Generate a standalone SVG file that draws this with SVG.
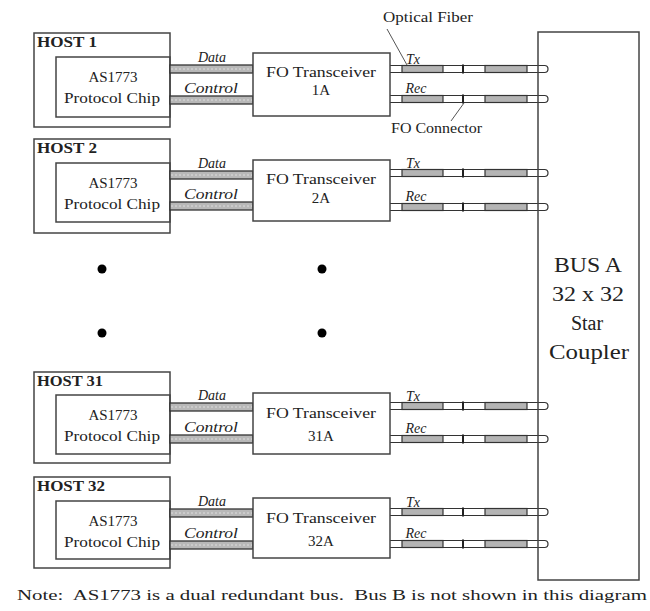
<svg xmlns="http://www.w3.org/2000/svg" width="650" height="611" viewBox="0 0 650 611">
<style>
.box{fill:none;stroke:#444;stroke-width:1.5}
.wbox{fill:#fff;stroke:#444;stroke-width:1.5}
.t{font-family:"Liberation Serif","Times New Roman",serif;fill:#222}
.host{font-size:15px;font-weight:bold}
.chip{font-size:15px;text-anchor:middle}
.lbl{font-size:14px;font-style:italic;text-anchor:middle}
.bus{font-size:20px;text-anchor:middle}
.lead{stroke:#555;stroke-width:1}
</style>
<defs>
<g id="fib">
<rect x="378" y="-3.5" width="170" height="7" rx="3.5" fill="#fff" stroke="#333" stroke-width="1.2"/>
<rect x="402" y="-3.5" width="41" height="7" fill="#b4b4b4" stroke="#333" stroke-width="1.2"/>
<rect x="485" y="-3.5" width="42" height="7" fill="#b4b4b4" stroke="#333" stroke-width="1.2"/>
<line x1="463" y1="-4.5" x2="463" y2="4.5" stroke="#222" stroke-width="2"/>
</g>
<g id="bar">
<rect x="170" y="-4" width="83" height="8" fill="#b8b8b8" stroke="#333" stroke-width="1.3"/>
<line x1="171" y1="0" x2="252" y2="0" stroke="#ddd" stroke-width="1" stroke-dasharray="2 2"/>
</g>
</defs>

<g id="host1">
<rect class="box" x="34" y="33" width="136" height="94"/>
<text class="t host" x="37" y="47" textLength="60" lengthAdjust="spacingAndGlyphs">HOST 1</text>
<rect class="box" x="56" y="57" width="114" height="60"/>
<text class="t chip" x="113" y="82">AS1773</text>
<text class="t chip" x="112" y="103" textLength="96" lengthAdjust="spacingAndGlyphs">Protocol Chip</text>
</g>
<g id="host2">
<rect class="box" x="34" y="139" width="136" height="94"/>
<text class="t host" x="37" y="153" textLength="60" lengthAdjust="spacingAndGlyphs">HOST 2</text>
<rect class="box" x="56" y="163" width="114" height="59"/>
<text class="t chip" x="113" y="188">AS1773</text>
<text class="t chip" x="112" y="209" textLength="96" lengthAdjust="spacingAndGlyphs">Protocol Chip</text>
</g>
<g id="host31">
<rect class="box" x="34" y="372" width="136" height="91"/>
<text class="t host" x="37" y="386" textLength="66" lengthAdjust="spacingAndGlyphs">HOST 31</text>
<rect class="box" x="56" y="395" width="114" height="59"/>
<text class="t chip" x="113" y="420">AS1773</text>
<text class="t chip" x="112" y="441" textLength="96" lengthAdjust="spacingAndGlyphs">Protocol Chip</text>
</g>
<g id="host32">
<rect class="box" x="34" y="477" width="136" height="91"/>
<text class="t host" x="37" y="491" textLength="68" lengthAdjust="spacingAndGlyphs">HOST 32</text>
<rect class="box" x="56" y="501" width="114" height="58"/>
<text class="t chip" x="113" y="526">AS1773</text>
<text class="t chip" x="112" y="547" textLength="96" lengthAdjust="spacingAndGlyphs">Protocol Chip</text>
</g>

<g id="connectors">
<use href="#bar" y="69"/><use href="#bar" y="100"/>
<use href="#bar" y="175"/><use href="#bar" y="206"/>
<use href="#bar" y="407"/><use href="#bar" y="439"/>
<use href="#bar" y="513"/><use href="#bar" y="545"/>
<use href="#fib" y="69"/><use href="#fib" y="99"/>
<use href="#fib" y="173"/><use href="#fib" y="207"/>
<use href="#fib" y="406"/><use href="#fib" y="439"/>
<use href="#fib" y="512"/><use href="#fib" y="544"/>
<line class="lead" x1="387" y1="29" x2="407" y2="65"/>
<line class="lead" x1="464" y1="103" x2="451" y2="121"/>
</g>

<g id="link-labels">
<text class="t lbl" x="212" y="62">Data</text>
<text class="t lbl" x="211" y="93" textLength="54" lengthAdjust="spacingAndGlyphs">Control</text>
<text class="t lbl" x="212" y="168">Data</text>
<text class="t lbl" x="211" y="199" textLength="54" lengthAdjust="spacingAndGlyphs">Control</text>
<text class="t lbl" x="212" y="400">Data</text>
<text class="t lbl" x="211" y="432" textLength="54" lengthAdjust="spacingAndGlyphs">Control</text>
<text class="t lbl" x="212" y="506">Data</text>
<text class="t lbl" x="211" y="538" textLength="54" lengthAdjust="spacingAndGlyphs">Control</text>
<text class="t lbl" x="413" y="64">Tx</text>
<text class="t lbl" x="416" y="93">Rec</text>
<text class="t lbl" x="413" y="168">Tx</text>
<text class="t lbl" x="416" y="201">Rec</text>
<text class="t lbl" x="413" y="401">Tx</text>
<text class="t lbl" x="416" y="433">Rec</text>
<text class="t lbl" x="413" y="507">Tx</text>
<text class="t lbl" x="416" y="538">Rec</text>
<text class="t" x="383" y="22" font-size="14" textLength="90" lengthAdjust="spacingAndGlyphs">Optical Fiber</text>
<text class="t" x="391" y="133" font-size="14" textLength="91" lengthAdjust="spacingAndGlyphs">FO Connector</text>
</g>

<g id="trans1A">
<rect class="wbox" x="253" y="53" width="137" height="63"/>
<text class="t chip" x="321" y="77" textLength="110" lengthAdjust="spacingAndGlyphs">FO Transceiver</text>
<text class="t chip" x="321" y="95">1A</text>
</g>
<g id="trans2A">
<rect class="wbox" x="253" y="160" width="137" height="61"/>
<text class="t chip" x="321" y="184" textLength="110" lengthAdjust="spacingAndGlyphs">FO Transceiver</text>
<text class="t chip" x="321" y="203">2A</text>
</g>
<g id="trans31A">
<rect class="wbox" x="253" y="393" width="137" height="61"/>
<text class="t chip" x="321" y="418" textLength="110" lengthAdjust="spacingAndGlyphs">FO Transceiver</text>
<text class="t chip" x="321" y="441">31A</text>
</g>
<g id="trans32A">
<rect class="wbox" x="253" y="498" width="137" height="60"/>
<text class="t chip" x="321" y="523" textLength="110" lengthAdjust="spacingAndGlyphs">FO Transceiver</text>
<text class="t chip" x="321" y="546">32A</text>
</g>

<g id="dots" fill="#000">
<circle cx="102" cy="269" r="4.5"/><circle cx="322" cy="269" r="4.5"/>
<circle cx="102" cy="333" r="4.5"/><circle cx="322" cy="333" r="4.5"/>
</g>

<g id="busA">
<rect class="box" x="538" y="32" width="101" height="548"/>
<text class="t bus" x="588" y="272" textLength="68" lengthAdjust="spacingAndGlyphs">BUS A</text>
<text class="t bus" x="588" y="301" textLength="72" lengthAdjust="spacingAndGlyphs">32 x 32</text>
<text class="t bus" x="587" y="330">Star</text>
<text class="t bus" x="589" y="359" textLength="80" lengthAdjust="spacingAndGlyphs">Coupler</text>
</g>

<text class="t" x="17" y="600" font-size="15" textLength="630" lengthAdjust="spacingAndGlyphs" xml:space="preserve">Note:  AS1773 is a dual redundant bus.  Bus B is not shown in this diagram</text>
</svg>
